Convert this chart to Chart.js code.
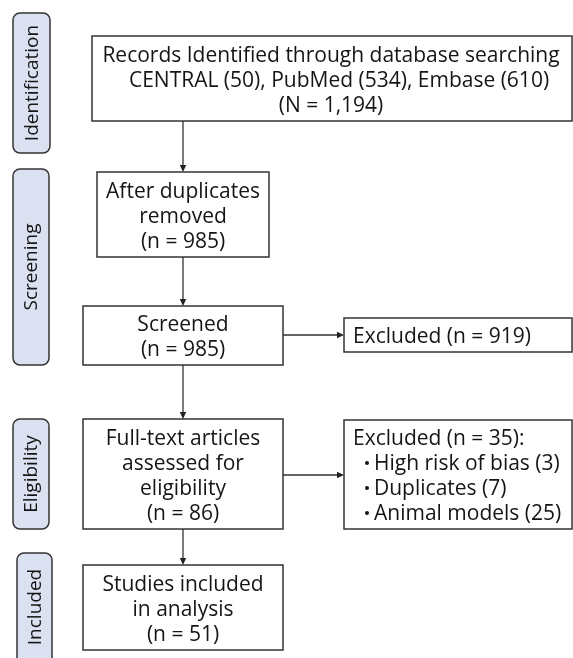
<!DOCTYPE html>
<html>
<head>
<meta charset="utf-8">
<script src="https://cdn.jsdelivr.net/npm/chart.js@4"></script>
<style>
  html, body { margin: 0; padding: 0; background: #ffffff; }
  #wrap { width: 573px; height: 658px; }
</style>
</head>
<body>
<div id="wrap"><canvas id="c" width="573" height="658"></canvas></div>
<script>
// ---- Data ----
const stages = ['Identification', 'Screening', 'Eligibility', 'Included'];
const databases = ['CENTRAL', 'PubMed', 'Embase'];
const databaseCounts = [50, 534, 610];
const totalIdentified = 1194;
const afterDuplicates = 985;
const screenedCount = 985;
const excludedScreening = 919;
const fullTextCount = 86;
const excludedEligibility = 35;
const exclusionReasons = ['High risk of bias', 'Duplicates', 'Animal models'];
const exclusionCounts = [3, 7, 25];
const includedCount = 51;

// ---- Layout (diagram units, separate from data) ----
const stageLayout = [
  [13, 13, 50, 153],
  [13, 169, 49, 365],
  [13, 419, 49, 529],
  [17, 553, 52, 672]
];
const boxLayout = {
  records:  [92, 36, 572, 121],
  dup:      [97, 172, 269, 257],
  screened: [83, 306, 283, 365],
  excl1:    [344, 318, 572, 352],
  full:     [83, 419, 283, 529],
  excl2:    [344, 420, 572, 529],
  studies:  [83, 565, 283, 650]
};
const arrowLayout = [
  [183, 121, 183, 172],
  [183, 257, 183, 306],
  [183, 365, 183, 419],
  [183, 529, 183, 565],
  [283, 335, 344, 335],
  [283, 475, 344, 475]
];

const fmt = n => n.toLocaleString('en-US');
const texts = {
  records: [
    'Records Identified through database searching',
    databases.map((d, i) => d + ' (' + databaseCounts[i] + ')').join(', '),
    '(N = ' + fmt(totalIdentified) + ')'
  ],
  dup: ['After duplicates', 'removed', '(n = ' + afterDuplicates + ')'],
  screened: ['Screened', '(n = ' + screenedCount + ')'],
  excl1: ['Excluded (n = ' + excludedScreening + ')'],
  full: ['Full-text articles', 'assessed for', 'eligibility', '(n = ' + fullTextCount + ')'],
  excl2: ['Excluded (n = ' + excludedEligibility + '):'],
  studies: ['Studies included', 'in analysis', '(n = ' + includedCount + ')']
};

const FONT = '"Open Sans", "Noto Sans", sans-serif';
const TEXT_COLOR = '#151515';
const LINE_COLOR = '#333333';
const STAGE_FILL = '#dbe1f1';

const flowPlugin = {
  id: 'flow',
  afterDraw(chart) {
    const ctx = chart.ctx;
    const xs = chart.scales.x, ys = chart.scales.y;
    const px = v => xs.getPixelForValue(v);
    const py = v => ys.getPixelForValue(v);
    ctx.save();

    // Stage labels
    stages.forEach((s, i) => {
      const [x0, y0, x1, y1] = stageLayout[i];
      const X0 = px(x0), Y0 = py(y0), X1 = px(x1), Y1 = py(y1);
      ctx.beginPath();
      ctx.roundRect(X0, Y0, X1 - X0, Y1 - Y0, 7);
      ctx.fillStyle = STAGE_FILL;
      ctx.fill();
      ctx.lineWidth = 1.5;
      ctx.strokeStyle = LINE_COLOR;
      ctx.stroke();
      const cy = i === 3 ? py(607) : (Y0 + Y1) / 2;
      ctx.save();
      ctx.translate((X0 + X1) / 2 + 1, cy);
      ctx.rotate(-Math.PI / 2);
      ctx.font = '19px ' + FONT;
      ctx.fillStyle = TEXT_COLOR;
      ctx.textAlign = 'center';
      ctx.textBaseline = 'middle';
      ctx.fillText(s, 0, 0);
      ctx.restore();
    });

    // Flow boxes
    ctx.lineWidth = 1.5;
    ctx.strokeStyle = LINE_COLOR;
    Object.keys(boxLayout).forEach(k => {
      const [x0, y0, x1, y1] = boxLayout[k];
      const X0 = px(x0), Y0 = py(y0), X1 = px(x1), Y1 = py(y1);
      ctx.fillStyle = '#ffffff';
      ctx.fillRect(X0, Y0, X1 - X0, Y1 - Y0);
      ctx.strokeRect(X0, Y0, X1 - X0, Y1 - Y0);
    });

    // Text in boxes
    ctx.font = '21px ' + FONT;
    ctx.fillStyle = TEXT_COLOR;
    ctx.textBaseline = 'alphabetic';
    const LH = 25, BASE = 8;
    Object.keys(texts).forEach(k => {
      const [x0, y0, x1, y1] = boxLayout[k];
      const lines = texts[k];
      const cy = (py(y0) + py(y1)) / 2;
      if (k === 'excl1' || k === 'excl2') {
        ctx.textAlign = 'left';
        const n = lines.length + (k === 'excl2' ? exclusionReasons.length : 0);
        const start = cy - (n - 1) * LH / 2 + BASE;
        ctx.fillText(lines[0], px(x0) + 9, start);
        if (k === 'excl2') {
          exclusionReasons.forEach((r, i) => {
            const yy = start + (i + 1) * LH;
            ctx.beginPath();
            ctx.arc(px(x0) + 23, yy - 7, 2, 0, Math.PI * 2);
            ctx.fill();
            ctx.fillText(r + ' (' + exclusionCounts[i] + ')', px(x0) + 30, yy);
          });
        }
      } else {
        ctx.textAlign = 'center';
        const cx = (px(x0) + px(x1)) / 2;
        const start = cy - (lines.length - 1) * LH / 2 + BASE;
        lines.forEach((l, i) => {
          let x = cx;
          if (k === 'records') x = cx - 1 + (i === 1 ? 8 : 0);
          ctx.fillText(l, x, start + i * LH);
        });
      }
    });

    // Arrows
    ctx.strokeStyle = LINE_COLOR;
    ctx.fillStyle = '#222222';
    ctx.lineWidth = 1.3;
    arrowLayout.forEach(([x0, y0, x1, y1]) => {
      const X0 = px(x0), Y0 = py(y0), X1 = px(x1), Y1 = py(y1);
      const ang = Math.atan2(Y1 - Y0, X1 - X0);
      const L = 7, W = 3.2;
      const bx = X1 - Math.cos(ang) * L, by = Y1 - Math.sin(ang) * L;
      ctx.beginPath();
      ctx.moveTo(X0, Y0);
      ctx.lineTo(bx, by);
      ctx.stroke();
      ctx.beginPath();
      ctx.moveTo(X1, Y1);
      ctx.lineTo(bx - Math.sin(ang) * W, by + Math.cos(ang) * W);
      ctx.lineTo(bx + Math.sin(ang) * W, by - Math.cos(ang) * W);
      ctx.closePath();
      ctx.fill();
    });

    ctx.restore();
  }
};

new Chart(document.getElementById('c'), {
  type: 'scatter',
  data: { datasets: [{ data: [], pointRadius: 0 }] },
  options: {
    responsive: false,
    animation: false,
    devicePixelRatio: 1,
    layout: { padding: 0 },
    plugins: { legend: { display: false }, tooltip: { enabled: false } },
    scales: {
      x: { type: 'linear', min: 0, max: 573, display: false },
      y: { type: 'linear', min: 0, max: 658, reverse: true, display: false }
    }
  },
  plugins: [flowPlugin]
});
</script>
</body>
</html>
